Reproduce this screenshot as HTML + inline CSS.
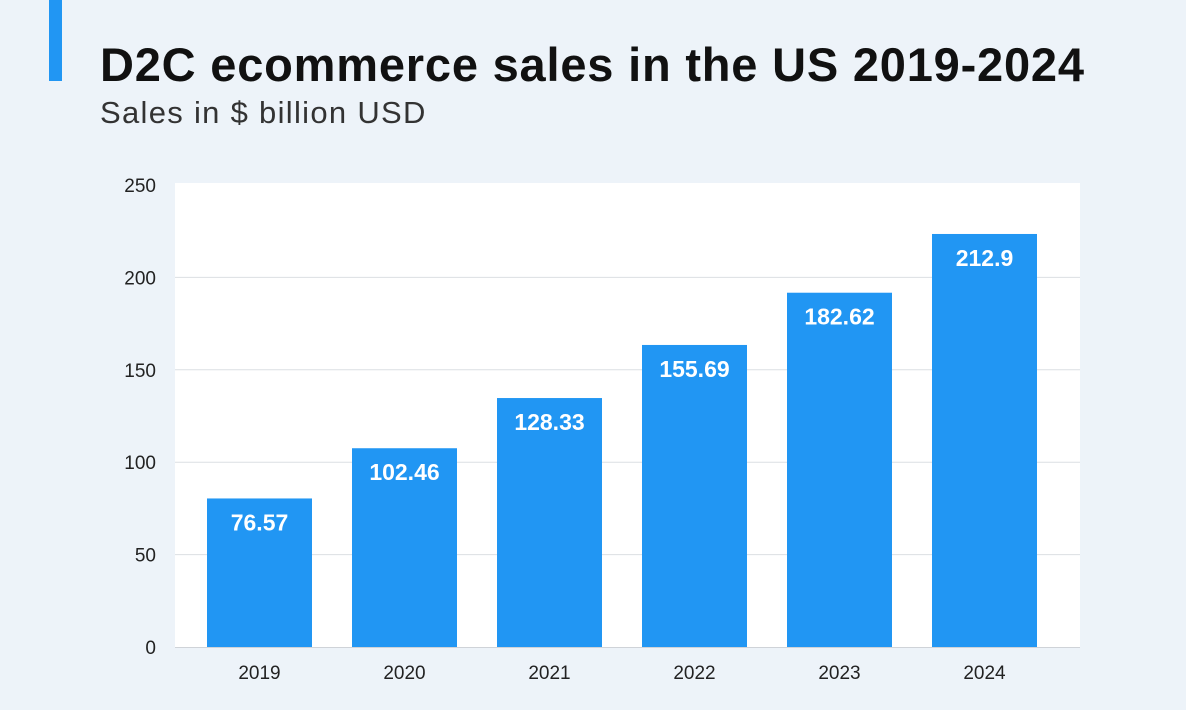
<!DOCTYPE html>
<html><head><meta charset="utf-8"><style>
body{margin:0;width:1186px;height:710px;background:#edf3f9;font-family:"Liberation Sans",sans-serif;overflow:hidden;position:relative}
#accent{position:absolute;left:49px;top:0;width:13px;height:81px;background:#2196f3}
#title{position:absolute;left:100px;top:37px;font-size:47px;font-weight:bold;color:#111;letter-spacing:0.8px;white-space:nowrap}
#sub{position:absolute;left:100px;top:95px;font-size:31px;color:#333;letter-spacing:1.3px;white-space:nowrap}
svg{position:absolute;left:0;top:0}
</style></head><body>
<div id="accent"></div>
<div id="title">D2C ecommerce sales in the US 2019-2024</div>
<div id="sub">Sales in $ billion USD</div>
<svg id="chart" width="1186" height="710"></svg>
<script>
const categories=["2019","2020","2021","2022","2023","2024"];
const values=[76.57,102.46,128.33,155.69,182.62,212.9];
const valueLabels=["76.57","102.46","128.33","155.69","182.62","212.9"];
const ticks=[0,50,100,150,200,250];
const NS="http://www.w3.org/2000/svg";
const svg=document.getElementById('chart');
const y0=647;
function yAxis(v){return y0-v*1.848;}
function yBar(v){return y0-v*1.94;}
function xBand(i){return 207+i*145;}
const bw=105;
function mk(t,a,txt){const e=document.createElementNS(NS,t);for(const k in a)e.setAttribute(k,a[k]);if(txt!==undefined)e.textContent=txt;svg.appendChild(e);return e;}
const bg=mk('rect',{x:175,y:183,width:905,height:465,fill:'#ffffff'});


ticks.forEach(t=>{
  const y=yAxis(t);
  if(t>0&&t<250){const g=mk('line',{x1:175,x2:1080,y1:y,y2:y,stroke:'#dcdfe3','stroke-width':1});
  
  }
  const l=mk('text',{x:156,y:y+7,'text-anchor':'end','font-size':19,fill:'#222'},String(t));
  
  
});
const ax=mk('line',{x1:175,x2:1080,y1:647.5,y2:647.5,stroke:'#cfd3d8','stroke-width':1});


values.forEach((v,i)=>{
  const x=xBand(i),y=yBar(v);
  const r=mk('rect',{x:x,y:y,width:bw,height:y0-y,fill:'#2196f3'});
  
  
  const t=mk('text',{x:x+bw/2,y:y+32,'text-anchor':'middle','font-size':23,'font-weight':'bold',fill:'#fff'},valueLabels[i]);
  
  
  const c=mk('text',{x:x+bw/2,y:679,'text-anchor':'middle','font-size':19,fill:'#222'},categories[i]);
  
  
});
</script>
</body></html>
